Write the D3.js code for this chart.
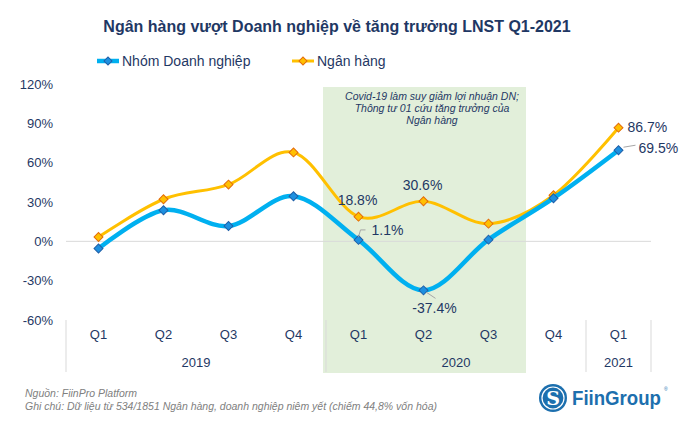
<!DOCTYPE html>
<html><head><meta charset="utf-8">
<script src="https://cdn.jsdelivr.net/npm/d3@7/dist/d3.min.js"></script>
<style>
body{margin:0;background:#fff;}
svg{font-family:"Liberation Sans",Arial,sans-serif;}
</style></head>
<body>
<svg id="chart" width="683" height="432"></svg>
<script>
const quarters = ["Q1","Q2","Q3","Q4","Q1","Q2","Q3","Q4","Q1"];
const yearLabels = ["2019","2020","2021"];
const yearSpans = [4,4,1];
const doanhNghiep = [-5.5, 23.7, 11.7, 34.4, 1.1, -37.4, 1.3, 32.9, 69.5];
const nganHang = [3.3, 32.1, 43.3, 67.8, 18.8, 30.6, 13.5, 35.2, 86.7];
const yTicks = [-60, -30, 0, 30, 60, 90, 120];
const seriesNames = ["Nhóm Doanh nghiệp", "Ngân hàng"];
const title = "Ngân hàng vượt Doanh nghiệp về tăng trưởng LNST Q1-2021";
const noteLines = ["Covid-19 làm suy giảm lợi nhuận DN;", "Thông tư 01 cứu tăng trưởng của", "Ngân hàng"];
const footer = ["Nguồn: FiinPro Platform", "Ghi chú: Dữ liệu từ 534/1851 Ngân hàng, doanh nghiệp niêm yết (chiếm 44,8% vốn hóa)"];

const navy = "#1F3864";
const svg = d3.select("#chart");
const idx = d3.range(quarters.length);
const x = d3.scaleBand().domain(idx).range([66, 651]).padding(0);
const cx = i => x(i) + x.bandwidth()/2;
const y = d3.scaleLinear().domain([-60, 120]).range([320, 84]);

// highlight box (Q1-Q3 2020)
svg.append("rect").attr("x", x(4) - 3).attr("y", 87)
  .attr("width", x(6) + x.bandwidth() - x(4) + 8).attr("height", 373 - 87)
  .attr("fill", "#E2EFDA");

// annotation
const note = svg.append("text").attr("font-size", 10.5).attr("font-style", "italic")
  .attr("fill", navy).attr("text-anchor", "middle");
noteLines.forEach((t, i) => note.append("tspan").attr("x", 432).attr("y", 100 + i*12).text(t));

// title
svg.append("text").attr("x", 337).attr("y", 32).attr("text-anchor", "middle")
  .attr("font-size", 16).attr("font-weight", "bold").attr("fill", navy).text(title);

// zero gridline
svg.append("line").attr("x1", 66).attr("x2", 651).attr("y1", y(0)).attr("y2", y(0))
  .attr("stroke", "#D9D9D9").attr("stroke-width", 1);

// y axis
const yAxis = svg.append("g").attr("transform", "translate(53,0)")
  .call(d3.axisLeft(y).tickValues(yTicks).tickSize(0).tickPadding(0).tickFormat(d => d + "%"));
yAxis.select(".domain").remove();
yAxis.selectAll("text").attr("font-size", 13).attr("fill", navy)
  .attr("font-family", "Liberation Sans, Arial, sans-serif");

// x axis quarter labels
const xAxis = svg.append("g").attr("transform", "translate(0,330)")
  .call(d3.axisBottom(x).tickSize(0).tickPadding(0).tickFormat(i => quarters[i]));
xAxis.select(".domain").remove();
xAxis.selectAll("text").attr("font-size", 13).attr("fill", navy)
  .attr("font-family", "Liberation Sans, Arial, sans-serif").attr("dy", "0.71em");

// year groups
let start = 0;
const bounds = [0];
yearLabels.forEach((lab, k) => {
  const end = start + yearSpans[k];
  const x0 = x(start), x1 = x(end - 1) + x.bandwidth();
  svg.append("text").attr("x", (x0 + x1)/2).attr("y", 367).attr("text-anchor", "middle")
    .attr("font-size", 13).attr("fill", navy).text(lab);
  bounds.push(end);
  start = end;
});
bounds.forEach(b => {
  const bx = b < quarters.length ? x(b) : x(quarters.length - 1) + x.bandwidth();
  svg.append("line").attr("x1", bx).attr("x2", bx).attr("y1", 320).attr("y2", 372)
    .attr("stroke", "#D9D9D9").attr("stroke-width", 1);
});

// lines
const line = d3.line().x((d, i) => cx(i)).y(d => y(d)).curve(d3.curveCatmullRom.alpha(0));

function drawSeries(vals, color, width, mFill, mStroke) {
  svg.append("path").datum(vals).attr("d", line).attr("fill", "none")
    .attr("stroke", color).attr("stroke-width", width).attr("stroke-linejoin", "round");
  svg.append("g").selectAll("path").data(vals).join("path")
    .attr("d", d3.symbol().type(d3.symbolSquare).size(40))
    .attr("transform", (d, i) => `translate(${cx(i)},${y(d)}) rotate(45)`)
    .attr("fill", mFill).attr("stroke", mStroke).attr("stroke-width", 1);
}
drawSeries(nganHang, "#FFC000", 3, "#FFC000", "#E46C0A");
drawSeries(doanhNghiep, "#00B0F0", 4.5, "#1E90E0", "#1F5FA8");

// data labels
const lab = (t, xx, yy, anchor) => svg.append("text").attr("x", xx).attr("y", yy)
  .attr("text-anchor", anchor).attr("font-size", 14).attr("fill", navy).text(t);
const fmt = v => v.toFixed(1) + "%";
const leader = pts => svg.append("path").attr("d", d3.line()(pts)).attr("fill", "none")
  .attr("stroke", "#A6A6A6").attr("stroke-width", 1);

lab(fmt(nganHang[4]), cx(4) - 1, y(nganHang[4]) - 12, "middle");
lab(fmt(nganHang[5]), cx(5) - 1, y(nganHang[5]) - 11, "middle");
lab(fmt(doanhNghiep[4]), cx(4) + 13, y(doanhNghiep[4]) - 5, "start");
leader([[cx(4), y(doanhNghiep[4]) - 3], [cx(4) + 2, y(doanhNghiep[4]) - 10], [cx(4) + 7, y(doanhNghiep[4]) - 10]]);
lab(fmt(doanhNghiep[5]), cx(5) + 11, y(doanhNghiep[5]) + 23, "middle");
leader([[cx(5) + 3, y(doanhNghiep[5]) + 2], [cx(5) + 12, y(doanhNghiep[5]) + 8]]);
lab(fmt(nganHang[8]), cx(8) + 9, y(nganHang[8]) + 4, "start");
lab(fmt(doanhNghiep[8]), cx(8) + 20, y(doanhNghiep[8]) + 3, "start");
leader([[cx(8) + 5, y(doanhNghiep[8]) - 3], [cx(8) + 17, y(doanhNghiep[8]) - 5]]);

// legend
const legend = [{name: seriesNames[0], x: 97, c: "#00B0F0", w: 4.5, f: "#1E90E0", s: "#1F5FA8"},
                {name: seriesNames[1], x: 292, c: "#FFC000", w: 3, f: "#FFC000", s: "#E46C0A"}];
legend.forEach(l => {
  const g = svg.append("g");
  g.append("line").attr("x1", l.x).attr("x2", l.x + 22).attr("y1", 61).attr("y2", 61)
    .attr("stroke", l.c).attr("stroke-width", l.w);
  g.append("path").attr("d", d3.symbol().type(d3.symbolSquare).size(32)())
    .attr("transform", `translate(${l.x + 11},61) rotate(45)`).attr("fill", l.f)
    .attr("stroke", l.s).attr("stroke-width", 1);
  g.append("text").attr("x", l.x + 25).attr("y", 66).attr("font-size", 14)
    .attr("fill", navy).text(l.name);
});

// footer
footer.forEach((t, i) => svg.append("text").attr("x", 25).attr("y", 397 + i*13)
  .attr("font-size", 10.5).attr("font-style", "italic").attr("fill", "#808080").text(t));

// logo
const logo = svg.append("g");
logo.append("circle").attr("cx", 553).attr("cy", 398).attr("r", 14).attr("fill", "#1C6FAE");
logo.append("circle").attr("cx", 553).attr("cy", 398).attr("r", 11).attr("fill", "none")
  .attr("stroke", "#fff").attr("stroke-width", 1.2);
logo.append("text").attr("x", 553).attr("y", 405).attr("text-anchor", "middle")
  .attr("font-size", 19).attr("font-weight", "bold").attr("fill", "#fff")
  .attr("font-family", "DejaVu Serif, serif").text("S");
logo.append("text").attr("x", 572).attr("y", 405).attr("font-size", 19.5)
  .attr("font-weight", "bold").attr("fill", "#1C6FAE").attr("textLength", 89)
  .attr("lengthAdjust", "spacingAndGlyphs").text("FiinGroup");
logo.append("text").attr("x", 664).attr("y", 391).attr("font-size", 5)
  .attr("fill", "#1C6FAE").text("®");
</script>
</body></html>
